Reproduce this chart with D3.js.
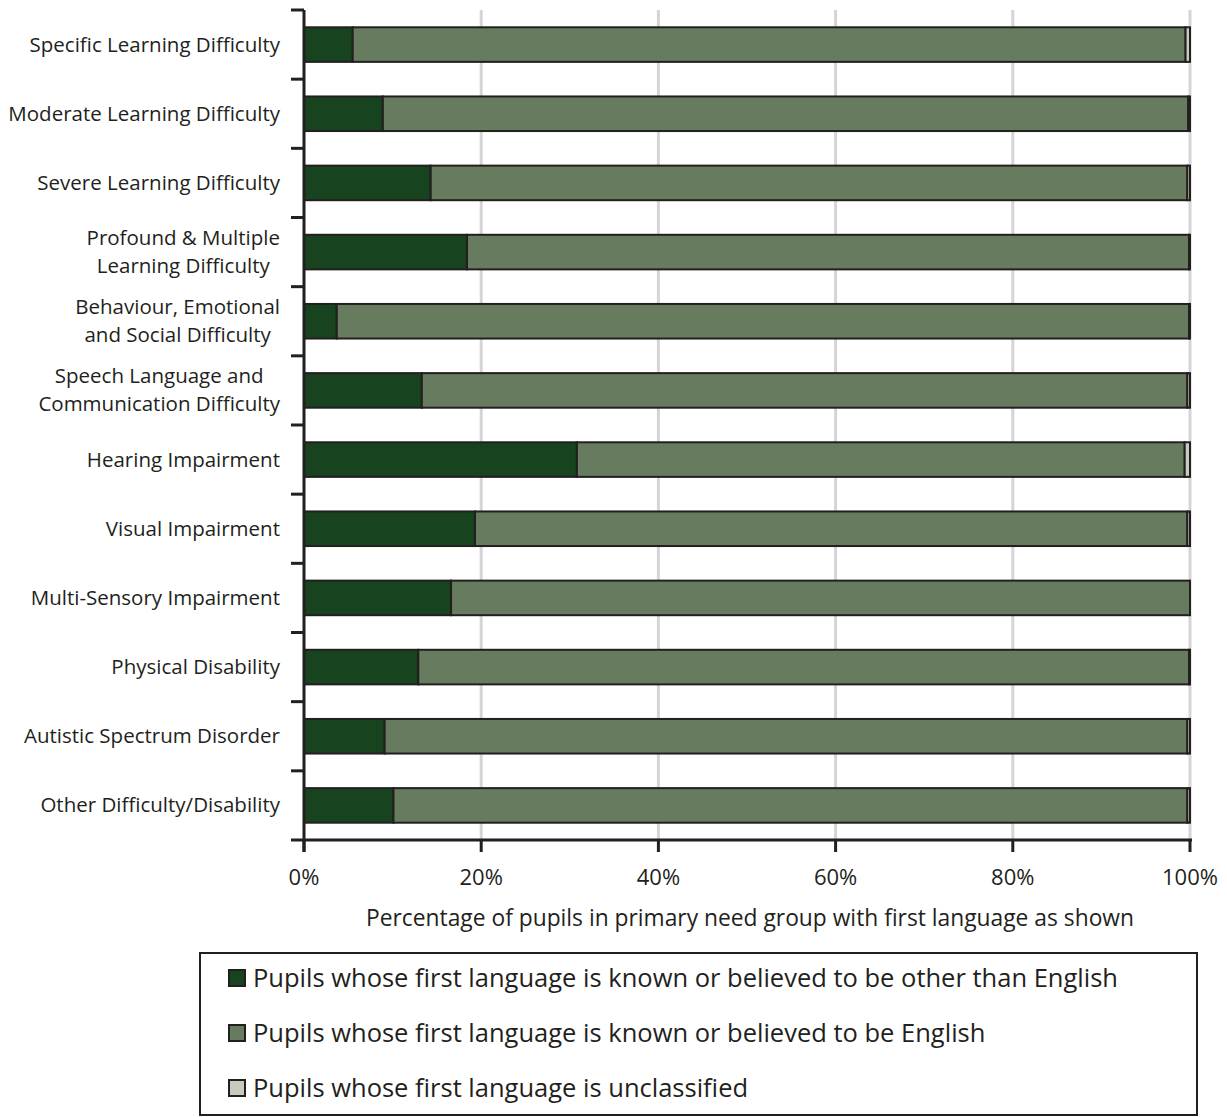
<!DOCTYPE html>
<html><head><meta charset="utf-8">
<script src="https://cdn.jsdelivr.net/npm/d3@7"></script>
<style>body{margin:0;background:#fff}svg{display:block}text{font-family:"Open Sans",sans-serif;fill:#231f20}</style>
</head><body><svg id="c" width="1227" height="1117"></svg>
<script>
const categories = [
  ["Specific Learning Difficulty"],
  ["Moderate Learning Difficulty"],
  ["Severe Learning Difficulty"],
  ["Profound & Multiple","Learning Difficulty"],
  ["Behaviour, Emotional","and Social Difficulty"],
  ["Speech Language and","Communication Difficulty"],
  ["Hearing Impairment"],
  ["Visual Impairment"],
  ["Multi-Sensory Impairment"],
  ["Physical Disability"],
  ["Autistic Spectrum Disorder"],
  ["Other Difficulty/Disability"]
];
const otherThanEnglish = [5.5, 8.9, 14.3, 18.4, 3.7, 13.3, 30.8, 19.3, 16.6, 12.9, 9.1, 10.1];
const unclassified     = [0.5, 0.2, 0.3, 0.1, 0.1, 0.3, 0.6, 0.3, 0.0, 0.1, 0.3, 0.3];
const english = otherThanEnglish.map((v,i)=>100 - v - unclassified[i]);
const xTicks = [0,20,40,60,80,100];
const seriesNames = [
  "Pupils whose first language is known or believed to be other than English",
  "Pupils whose first language is known or believed to be English",
  "Pupils whose first language is unclassified"
];
const colors = ["#17431f","#677b5e","#c5cbbf"];
const xTitle = "Percentage of pupils in primary need group with first language as shown";

const svg = d3.select("#c");
const ink = "#231f20";
const x = d3.scaleLinear().domain([0,100]).range([304,1190]);
const y = d3.scaleBand().domain(d3.range(categories.length)).range([10,840]).paddingInner(0.5).paddingOuter(0.25);
const yEdges = d3.scaleLinear().domain([0,categories.length]).range([10,840]);

// gridlines
svg.append("g").selectAll("line").data(xTicks.slice(1)).join("line")
  .attr("x1",d=>x(d)).attr("x2",d=>x(d)).attr("y1",10).attr("y2",840)
  .attr("stroke","#d5d5d7").attr("stroke-width",3);

// bars
const rows = categories.map((c,i)=>({i, vals:[otherThanEnglish[i], english[i], unclassified[i]]}));
const stack = d3.stack().keys([0,1,2]).value((d,k)=>d.vals[k])(rows);
stack.forEach((s,k)=>{
  svg.append("g").selectAll("rect").data(s.filter(d=>d[1]-d[0]>0)).join("rect")
    .attr("x",d=>x(d[0])).attr("width",d=>x(d[1])-x(d[0]))
    .attr("y",d=>y(d.data.i)).attr("height",y.bandwidth())
    .attr("fill",colors[k]).attr("stroke",ink).attr("stroke-width",2);
});

// y axis
const ya = svg.append("g");
ya.append("line").attr("x1",304).attr("x2",304).attr("y1",10).attr("y2",852).attr("stroke",ink).attr("stroke-width",3);
ya.selectAll("line.t").data(d3.range(categories.length)).join("line").attr("class","t")
  .attr("x1",291).attr("x2",304).attr("y1",d=>yEdges(d)).attr("y2",d=>yEdges(d)).attr("stroke",ink).attr("stroke-width",3);

// x axis
const xa = svg.append("g");
xa.append("line").attr("x1",291).attr("x2",1192).attr("y1",840).attr("y2",840).attr("stroke",ink).attr("stroke-width",3);
xa.selectAll("line.t").data(xTicks).join("line").attr("class","t")
  .attr("x1",d=>x(d)).attr("x2",d=>x(d)).attr("y1",840).attr("y2",852).attr("stroke",ink).attr("stroke-width",3);
xa.selectAll("text").data(xTicks).join("text")
  .attr("x",d=>x(d)).attr("y",885).attr("text-anchor","middle").attr("font-size",22).text(d=>d+"%");
svg.append("text").attr("x",750).attr("y",926).attr("text-anchor","middle").attr("font-size",22.8).text(xTitle);

// category labels
categories.forEach((lines,i)=>{
  const cy = y(i)+y.bandwidth()/2;
  const g = svg.append("g");
  const ts = lines.map((l,j)=>g.append("text").attr("font-size",20.5)
      .attr("y", cy + (j-(lines.length-1)/2)*28 + 7).text(l));
  const w = d3.max(ts, t=>t.node().getComputedTextLength());
  const right = 280;
  ts.forEach(t=>t.attr("text-anchor","middle").attr("x", right - w/2));
});

// legend
svg.append("rect").attr("x",200).attr("y",953).attr("width",997).attr("height",162)
  .attr("fill","none").attr("stroke",ink).attr("stroke-width",2);
seriesNames.forEach((n,k)=>{
  const ly = 978 + k*55;
  svg.append("rect").attr("x",229).attr("y",ly-8).attr("width",16).attr("height",16)
    .attr("fill",colors[k]).attr("stroke",ink).attr("stroke-width",2);
  svg.append("text").attr("x",253).attr("y",ly+9).attr("font-size",25.5).text(n);
});
</script></body></html>
